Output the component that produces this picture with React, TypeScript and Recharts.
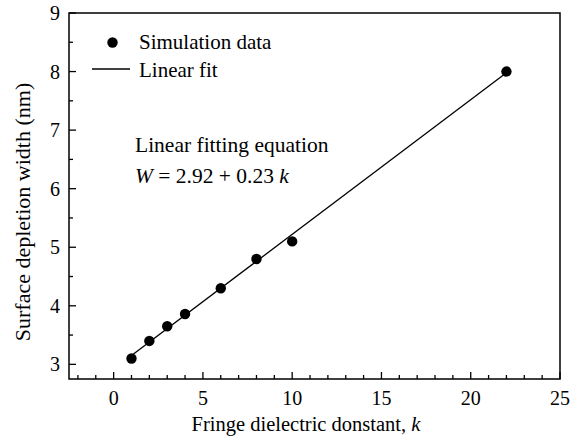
import { ComposedChart, Scatter, Line, XAxis, YAxis, ReferenceArea, Customized } from 'recharts';

const kValues = [1, 2, 3, 4, 6, 8, 10, 22];
const widthValues = [3.1, 3.4, 3.65, 3.86, 4.3, 4.8, 5.1, 8.0];

const fitK = [1, 22];
const fitW = [3.15, 7.98];

const xTicks = [-2, -1, 0, 1, 2, 3, 4, 5, 6, 7, 8, 9, 10, 11, 12, 13, 14, 15, 16, 17, 18, 19, 20, 21, 22, 23, 24, 25];
const yTicks = [3, 3.5, 4, 4.5, 5, 5.5, 6, 6.5, 7, 7.5, 8, 8.5, 9];

const simData = kValues.map((k, i) => ({ k, w: widthValues[i] }));
const fitData = fitK.map((k, i) => ({ k, w: fitW[i] }));

const FONT = "'Liberation Serif', 'Times New Roman', serif";
const txt = (size: number) => ({ fontFamily: FONT, fontSize: size });

const XTick = (props: any) => {
  const { x, y, payload } = props;
  const major = payload.value % 5 === 0;
  return (
    <g>
      <line x1={x} x2={x} y1={y} y2={y - (major ? 7 : 4)} stroke="#000" strokeWidth={1.3} />
      {major && (
        <text x={x} y={y + 26} textAnchor="middle" style={txt(20)} fill="#000">
          {payload.value}
        </text>
      )}
    </g>
  );
};

const YTick = (props: any) => {
  const { x, y, payload } = props;
  const major = Number.isInteger(payload.value);
  return (
    <g>
      <line x1={x} x2={x + (major ? 7 : 4)} y1={y} y2={y} stroke="#000" strokeWidth={1.3} />
      {major && (
        <text x={x - 9} y={y + 7} textAnchor="end" style={txt(20)} fill="#000">
          {payload.value}
        </text>
      )}
    </g>
  );
};

const Decorations = () => (
  <g fill="#000">
    {/* legend */}
    <circle cx={112.5} cy={42.5} r={5.2} fill="#000" />
    <text x={139} y={49} style={txt(21)}>Simulation data</text>
    <line x1={92} x2={130} y1={69} y2={69} stroke="#000" strokeWidth={1.3} />
    <text x={139} y={77} style={txt(21)}>Linear fit</text>
    {/* annotation */}
    <text x={135} y={152} style={txt(21.5)}>Linear fitting equation</text>
    <text x={135} y={183} style={txt(21.5)}>
      <tspan fontStyle="italic">W</tspan> = 2.92 + 0.23 <tspan fontStyle="italic">k</tspan>
    </text>
    {/* axis titles */}
    <text x={306} y={431} style={txt(20.5)} textAnchor="middle">
      Fringe dielectric donstant, <tspan fontStyle="italic">k</tspan>
    </text>
    <text x={30} y={212} style={txt(22)} textAnchor="middle" transform="rotate(-90 30 212)">
      Surface depletion width (nm)
    </text>
  </g>
);

export default function App() {
  return (
    <div style={{ position: 'absolute', left: 0, top: 0, background: '#fff', fontFamily: FONT }}>
      <ComposedChart width={581} height={443} margin={{ top: 13, right: 21, left: 0, bottom: 0 }}>
        <XAxis
          type="number"
          dataKey="k"
          domain={[-2.5, 25]}
          ticks={xTicks}
          interval={0}
          height={64}
          tickSize={0}
          tickMargin={0}
          tickLine={false}
          tick={<XTick />}
          axisLine={false}
          allowDataOverflow
        />
        <YAxis
          type="number"
          dataKey="w"
          domain={[2.75, 9]}
          ticks={yTicks}
          interval={0}
          width={69}
          tickSize={0}
          tickMargin={0}
          tickLine={false}
          tick={<YTick />}
          axisLine={false}
          allowDataOverflow
        />
        <ReferenceArea x1={-2.5} x2={25} y1={2.75} y2={9} fill="none" stroke="#000" strokeWidth={1.5} ifOverflow="visible" />
        <Line
          data={fitData}
          dataKey="w"
          stroke="#000"
          strokeWidth={1.3}
          dot={false}
          activeDot={false}
          isAnimationActive={false}
          legendType="none"
        />
        <Scatter
          data={simData}
          dataKey="w"
          fill="#000"
          isAnimationActive={false}
          shape={(p: any) => <circle cx={p.cx} cy={p.cy} r={5.2} fill="#000" />}
        />
        <Customized component={<Decorations />} />
      </ComposedChart>
    </div>
  );
}
